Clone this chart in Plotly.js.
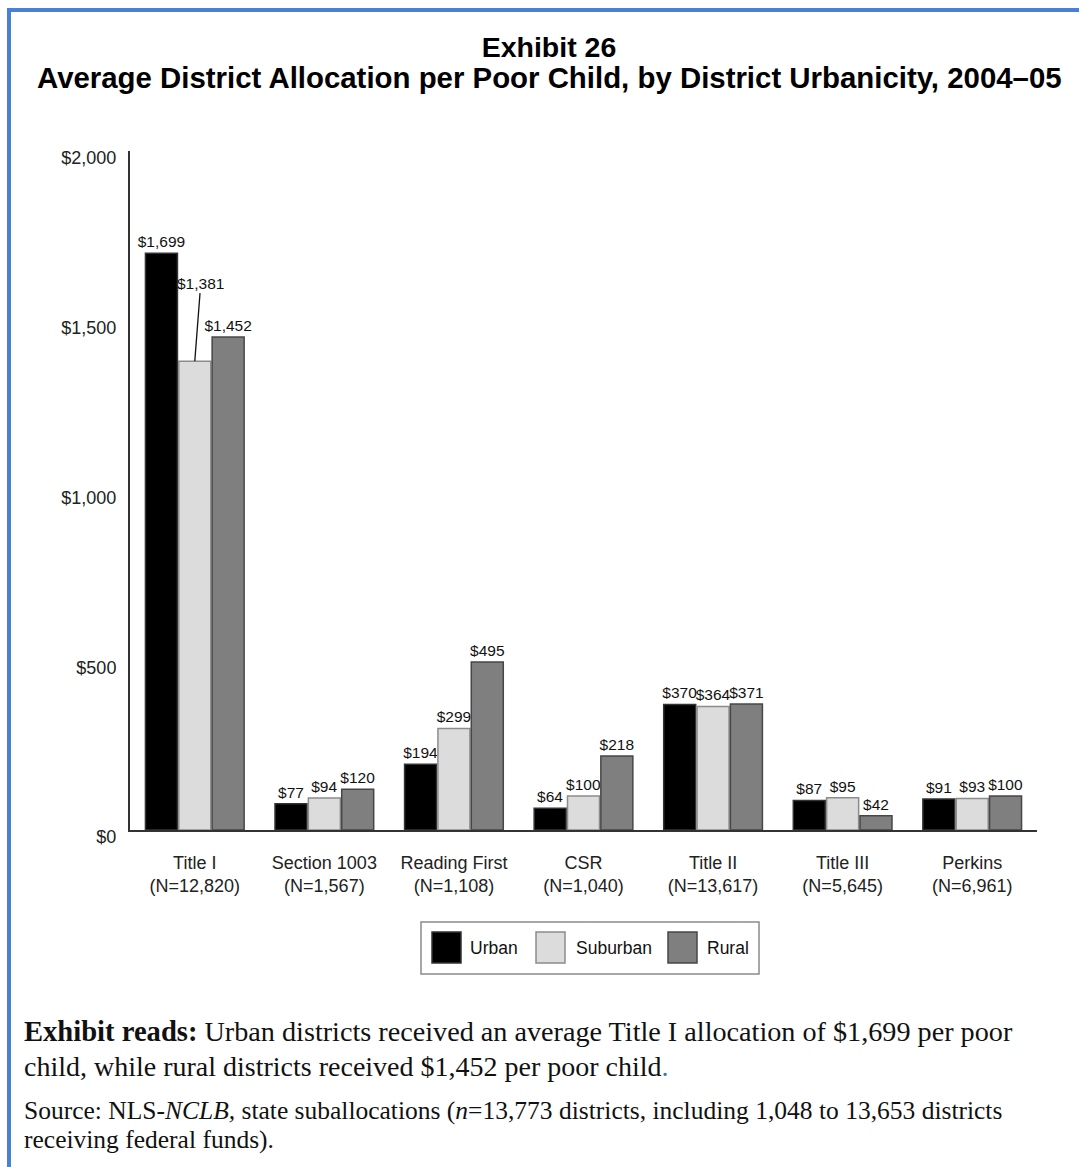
<!DOCTYPE html>
<html><head><meta charset="utf-8">
<script src="https://cdn.plot.ly/plotly-3.0.1.min.js"></script>
<style>
html,body{margin:0;padding:0;background:#fff;width:1079px;height:1167px;overflow:hidden;}
#frame{position:absolute;left:7px;top:8px;width:1200px;height:1300px;border-top:4px solid #4a7fd6;border-left:4px solid #4a7fd6;pointer-events:none;}
#chart{position:absolute;left:0;top:0;width:1079px;height:1000px;}
.note{position:absolute;left:24px;white-space:nowrap;font-family:"Liberation Serif",serif;color:#111;}
</style></head><body>
<div id="chart"></div>
<div id="frame"></div>
<div class="note" style="top:1015px;font-size:28.2px;line-height:34px;"><b style="font-size:28.6px">Exhibit reads:</b> Urban districts received an average Title I allocation of $1,699 per poor</div>
<div class="note" style="top:1050px;font-size:28px;line-height:34px;">child, while rural districts received $1,452 per poor child<span style="color:#2e75b6">.</span></div>
<div class="note" style="top:1095.5px;font-size:25.5px;line-height:29px;">Source: NLS-<i>NCLB,</i> state suballocations (<i>n</i>=13,773 districts, including 1,048 to 13,653 districts</div>
<div class="note" style="top:1124.5px;font-size:25.5px;line-height:29px;">receiving federal funds).</div>
<script>
const categories = ['Title I','Section 1003','Reading First','CSR','Title II','Title III','Perkins'];
const sampleSizes = ['N=12,820','N=1,567','N=1,108','N=1,040','N=13,617','N=5,645','N=6,961'];
const seriesNames = ['Urban','Suburban','Rural'];
const urban    = [1699, 77, 194,  64, 370, 87,  91];
const suburban = [1381, 94, 299, 100, 364, 95,  93];
const rural    = [1452, 120, 495, 218, 371, 42, 100];
const yTicks = [0, 500, 1000, 1500, 2000];

const fills = ['#000000', '#dcdcdc', '#7f7f7f'];
const edges = ['#333333', '#8c8c8c', '#474747'];
const fmt = v => '$' + v.toLocaleString('en-US');

const W = 1079, H = 1000, L = 130, R = 42, T = 151, B = 170;
const pw = W - L - R, ph = H - T - B;
const px2x = p => (p - L) / pw;
const px2y = p => (H - B - p) / ph;

const series = [urban, suburban, rural];
const traces = series.map((vals, k) => ({
  type: 'bar',
  name: seriesNames[k],
  x: categories,
  y: vals,
  text: vals.map((v, i) => (k === 1 && i === 0) ? '' : fmt(v)),
  textposition: 'outside',
  constraintext: 'none',
  cliponaxis: false,
  textfont: {family: 'Liberation Sans, Arial, sans-serif', size: 15.5, color: '#111'},
  marker: {color: fills[k], line: {color: edges[k], width: 1.5}},
  hoverinfo: 'x+y',
  showlegend: false
}));

const annotations = [
  {x: categories[0], y: suburban[0], xref: 'x', yref: 'y', text: fmt(suburban[0]),
   showarrow: true, arrowhead: 0, arrowwidth: 1.3, arrowcolor: '#111', ax: 6, ay: -78, standoff: 0,
   font: {family: 'Liberation Sans, Arial, sans-serif', size: 15.5, color: '#111'}},
  {x: px2x(549), y: px2y(77.5), xref: 'paper', yref: 'paper', xanchor: 'center', yanchor: 'middle', showarrow: false,
   text: '<b>Average District Allocation per Poor Child, by District Urbanicity, 2004–05</b>',
   font: {family: 'Liberation Sans, Arial, sans-serif', size: 29.4, color: '#000'}}
];
const shapes = [
  {type: 'rect', xref: 'paper', yref: 'paper', x0: px2x(421), x1: px2x(759), y0: px2y(974), y1: px2y(922),
   line: {color: '#8a8a8a', width: 1.5}, fillcolor: '#fff'}
];
const legSq = [432, 536, 668];
const legTx = [468, 574, 705];
seriesNames.forEach((n, k) => {
  shapes.push({type: 'rect', xref: 'paper', yref: 'paper', x0: px2x(legSq[k]), x1: px2x(legSq[k] + 29),
    y0: px2y(963), y1: px2y(932), fillcolor: fills[k], line: {color: edges[k], width: 1.5}});
  annotations.push({x: px2x(legTx[k]), y: px2y(948), xref: 'paper', yref: 'paper', xanchor: 'left', yanchor: 'middle',
    showarrow: false, text: n, font: {family: 'Liberation Sans, Arial, sans-serif', size: 17.5, color: '#111'}});
});

const layout = {
  width: W, height: H,
  margin: {l: L, r: R, t: T, b: B},
  paper_bgcolor: 'rgba(0,0,0,0)', plot_bgcolor: 'rgba(0,0,0,0)',
  title: {text: '<b>Exhibit 26</b>', x: 549 / W, xanchor: 'center', xref: 'container', y: 1 - 47 / H, yanchor: 'middle', yref: 'container',
          font: {family: 'Liberation Sans, Arial, sans-serif', size: 28.5, color: '#000'}},
  barmode: 'group', bargap: 0.228, bargroupgap: 0.04,
  xaxis: {tickvals: categories, ticktext: categories.map((c, i) => c + '<br>(' + sampleSizes[i] + ')'),
          showline: true, linecolor: '#333', linewidth: 2, ticks: '', showgrid: false, zeroline: false,
          ticklabelstandoff: 15, tickfont: {family: 'Liberation Sans, Arial, sans-serif', size: 18, color: '#222'}},
  yaxis: {range: [0, 2000], tickvals: yTicks, ticktext: yTicks.map(fmt),
          showline: true, linecolor: '#333', linewidth: 2, ticks: '', showgrid: false, zeroline: false,
          ticklabelstandoff: 8, ticklabelshift: 7, tickfont: {family: 'Liberation Sans, Arial, sans-serif', size: 18, color: '#222'}},
  annotations: annotations,
  shapes: shapes,
  showlegend: false
};
Plotly.newPlot('chart', traces, layout, {displayModeBar: false, staticPlot: true});
</script>
</body></html>
